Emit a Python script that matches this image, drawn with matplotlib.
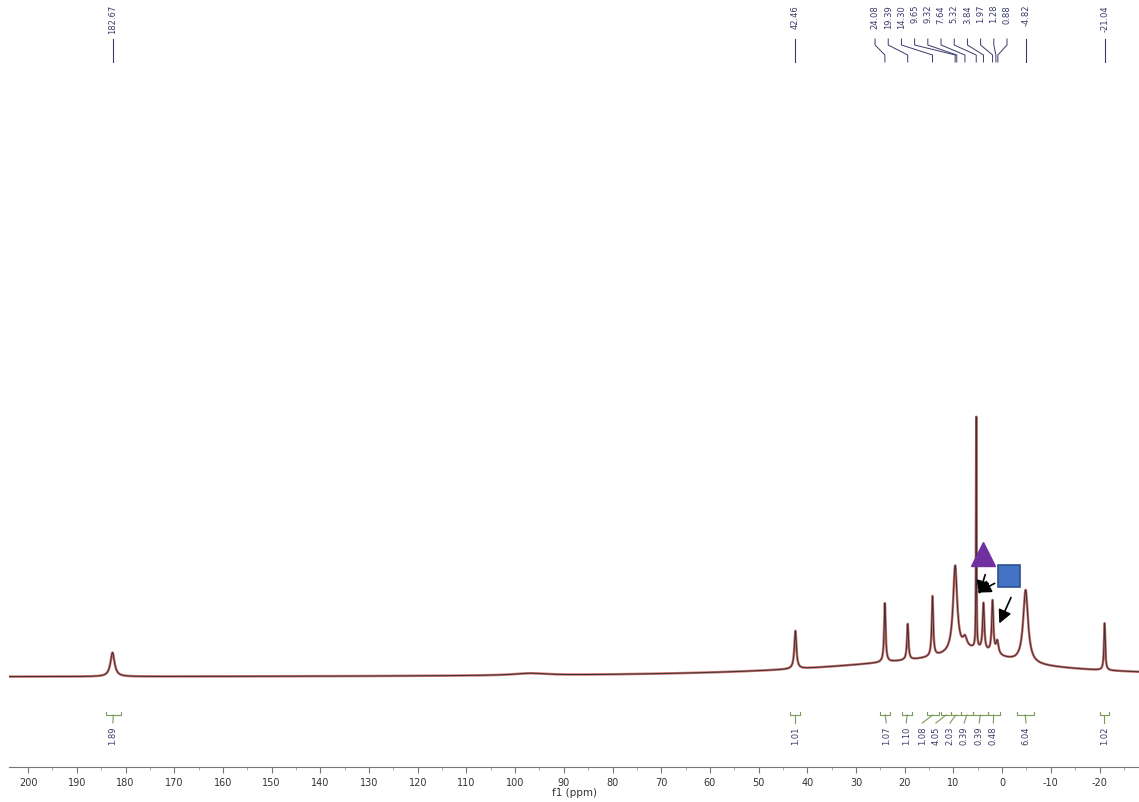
import numpy as np
import matplotlib
matplotlib.use("Agg")
import matplotlib.pyplot as plt

plt.rcParams["axes.unicode_minus"] = False

# peaks (ppm, height above local baseline, half width)
peak_ppm = [182.67, 42.46, 24.08, 19.39, 14.30, 9.65, 7.64, 5.32, 3.84, 1.97, 1.00, -4.82, -21.04]
peak_height = [24, 38, 59, 36, 60, 86, 10, 232, 47, 52, 13, 73, 47]
peak_width = [0.5, 0.25, 0.18, 0.18, 0.18, 0.5, 0.5, 0.06, 0.2, 0.2, 0.3, 0.6, 0.15]

# broad baseline humps
hump_ppm = [97, 15, 6]
hump_height = [2, 14, 14]
hump_width = [4, 30, 7]

# peak picking labels (top)
single_labels = ["182.67", "42.46", "-4.82", "-21.04"]
single_label_ppm = [182.67, 42.46, -4.82, -21.04]
cluster_labels = ["24.08", "19.39", "14.30", "9.65", "9.32", "7.64", "5.32", "3.84", "1.97", "1.28", "0.88"]
cluster_peak_ppm = [24.08, 19.39, 14.30, 9.65, 9.32, 7.64, 5.32, 3.84, 1.97, 1.28, 0.88]

# integrals (bottom)
integral_values = ["1.89", "1.01", "1.07", "1.10", "1.08", "4.05", "2.03", "0.39", "0.39", "0.48", "6.04", "1.02"]
integral_ppm = [182.6, 42.5, 23.8, 19.7, 16.4, 13.6, 10.7, 7.8, 4.7, 1.8, -4.9, -21.0]
integral_from = [184.0, 43.5, 25.0, 20.5, 15.5, 12.5, 10.5, 8.5, 6.0, 3.0, -3.0, -20.0]
integral_to = [181.0, 41.5, 23.0, 18.5, 13.0, 10.5, 8.5, 6.0, 3.0, 0.5, -6.5, -22.0]

ppm = np.linspace(204, -28.2, 24000)
spec = np.zeros_like(ppm)
for c, h, w in zip(peak_ppm + hump_ppm, peak_height + hump_height, peak_width + hump_width):
    spec += h * w**2 / ((ppm - c)**2 + w**2)

fig = plt.figure(figsize=(11.39, 8.03), dpi=100)
ax = fig.add_axes([0.008, 0.0436, 0.992, 0.9564])

ax.plot(ppm, spec, color="#c0504d", lw=1.8, alpha=0.8)
ax.plot(ppm, spec, color="#3a3030", lw=0.7)

ax.set_xlim(203.9, -28.1)
ax.set_ylim(-90, 678)

for s in ["top", "left", "right"]:
    ax.spines[s].set_visible(False)
ax.spines["bottom"].set_color("#777777")
ax.set_yticks([])
ax.set_xticks(np.arange(200, -21, -10))
ax.set_xticks(np.arange(200, -26, -5), minor=True)
ax.tick_params(axis="x", direction="out", length=4, color="#777777", labelsize=7, labelcolor="#333333", pad=3)
ax.tick_params(axis="x", which="minor", length=2, color="#999999")
ax.set_xlabel("f1 (ppm)", fontsize=7.5, color="#333333", labelpad=0)

lab_col = "#3a3a6a"
# single peak labels
for t, x in zip(single_labels, single_label_ppm):
    ax.text(x, 673, t, rotation=90, fontsize=6, color=lab_col, ha="center", va="top")
    ax.plot([x, x], [638, 615], color=lab_col, lw=0.8)

# cluster peak labels with fan-out lines
lab_x = np.linspace(26.1, -1.0, len(cluster_labels))
for t, lx, px in zip(cluster_labels, lab_x, cluster_peak_ppm):
    ax.text(lx, 673, t, rotation=90, fontsize=6, color=lab_col, ha="center", va="top")
    ax.plot([lx, lx, px, px], [638, 632, 622, 615], color=lab_col, lw=0.7)

# integrals
int_col = "#7a9a5a"
for v, x, a, b in zip(integral_values, integral_ppm, integral_from, integral_to):
    ax.plot([a, a, b, b], [-35, -38, -38, -35], color=int_col, lw=0.8)
    ax.plot([(a + b) / 2, x], [-38, -46], color=int_col, lw=0.8)
    ax.text(x, -49, v, rotation=90, fontsize=6, color=lab_col, ha="center", va="top")

# markers and arrows
ax.plot([3.9], [123], marker="^", ms=17, color="#7030a0", mec="#7030a0")
ax.plot([-1.4], [101], marker="s", ms=16, color="#4472c4", mec="#2f528f", mew=1.2)
arr = dict(arrowstyle="-|>", mutation_scale=20, color="k", lw=1.2)
ax.annotate("", xy=(4.93, 80), xytext=(3.3, 105), arrowprops=arr)
ax.annotate("", xy=(5.55, 83), xytext=(1.03, 95), arrowprops=arr)
ax.annotate("", xy=(0.82, 51), xytext=(-2.05, 82), arrowprops=arr)

fig.savefig("out.png", dpi=100)
